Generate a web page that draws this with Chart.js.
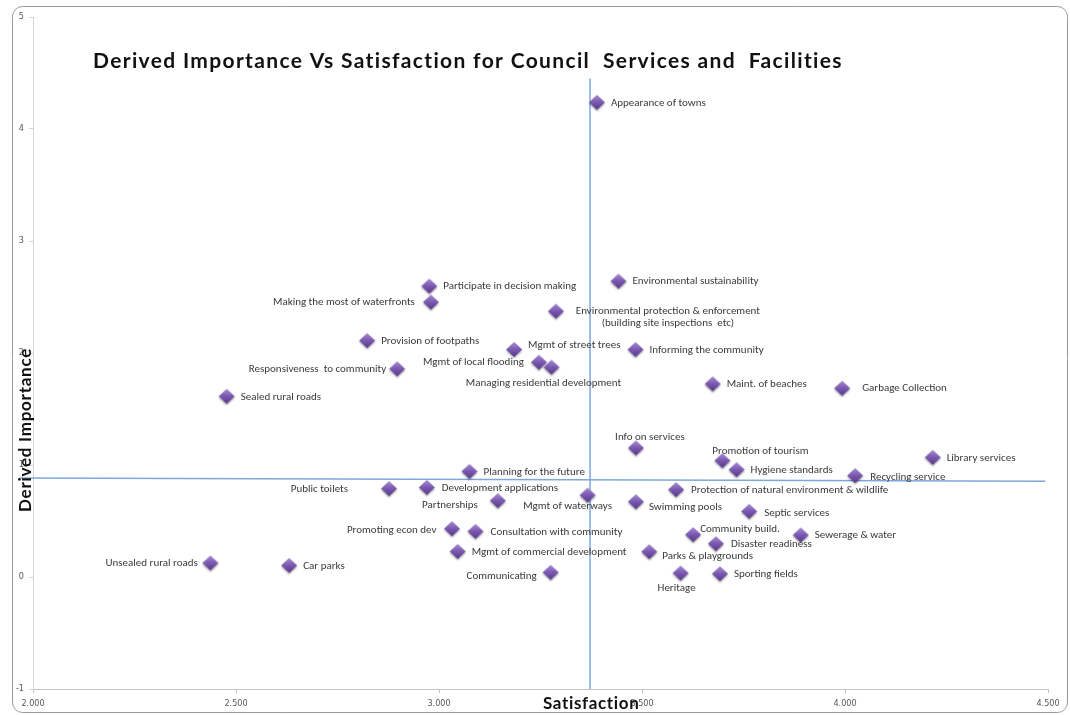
<!DOCTYPE html>
<html>
<head>
<meta charset="utf-8">
<title>Derived Importance Vs Satisfaction</title>
<script src="https://cdn.jsdelivr.net/npm/chart.js"></script>
<style>
  body { margin: 0; background: #fff; }
  #wrap { width: 1070px; height: 715px; position: relative; }
</style>
</head>
<body>
<div id="wrap"><canvas id="chart" width="1070" height="715"></canvas></div>
<script>
// services, satisfaction score (x) and derived importance (y)
const services = [
  'Appearance of towns', 'Environmental sustainability', 'Participate in decision making',
  'Making the most of waterfronts', 'Environmental protection & enforcement\n(building site inspections  etc)',
  'Provision of footpaths', 'Mgmt of street trees', 'Informing the community',
  'Mgmt of local flooding', 'Managing residential development', 'Responsiveness  to community',
  'Maint. of beaches', 'Garbage Collection', 'Sealed rural roads', 'Info on services',
  'Library services', 'Promotion of tourism', 'Hygiene standards', 'Planning for the future',
  'Recycling service', 'Public toilets', 'Development applications',
  'Protection of natural environment & wildlife', 'Mgmt of waterways', 'Partnerships',
  'Swimming pools', 'Septic services', 'Promoting econ dev', 'Consultation with community',
  'Community build.', 'Sewerage & water', 'Disaster readiness', 'Mgmt of commercial development',
  'Parks & playgrounds', 'Unsealed rural roads', 'Car parks', 'Communicating', 'Heritage',
  'Sporting fields'
];
const satisfaction = [
  3.389, 3.442, 2.976, 2.980, 3.288, 2.823, 3.185, 3.484, 3.246, 3.277, 2.897,
  3.674, 3.993, 2.477, 3.485, 4.216, 3.698, 3.733, 3.075, 4.025, 2.877, 2.970,
  3.584, 3.366, 3.145, 3.485, 3.764, 3.032, 3.090, 3.626, 3.891, 3.682, 3.046,
  3.518, 2.437, 2.631, 3.275, 3.595, 3.692
];
const importance = [
  4.234, 2.637, 2.593, 2.450, 2.369, 2.107, 2.027, 2.027, 1.913, 1.869, 1.854,
  1.720, 1.681, 1.609, 1.148, 1.064, 1.035, 0.954, 0.939, 0.901, 0.785, 0.796,
  0.776, 0.727, 0.677, 0.668, 0.582, 0.427, 0.403, 0.374, 0.371, 0.293, 0.224,
  0.222, 0.121, 0.099, 0.037, 0.031, 0.025
];

// average lines
const meanSatisfaction = 3.372;
const meanSatRange = [-1, 4.45];
const meanImportanceX = [1.968, 4.493];
const meanImportanceY = [0.883, 0.856];

// axis ranges
const xRange = [2, 4.5];
const yRange = [-1, 5];

// where each label sits relative to its point: [side, offset, dy]
const labelPlace = {
  'Making the most of waterfronts': ['l', 16, 0],
  'Environmental protection & enforcement\n(building site inspections  etc)': ['c', 112, 0],
  'Mgmt of street trees': ['r', 14, -5],
  'Mgmt of local flooding': ['l', 15, 0],
  'Managing residential development': ['c', -8, 15.5],
  'Responsiveness  to community': ['l', 11, 0],
  'Garbage Collection': ['r', 20, 0],
  'Info on services': ['c', 14, -11.5],
  'Promotion of tourism': ['c', 38, -10],
  'Recycling service': ['r', 15, 1],
  'Public toilets': ['l', 41, 0],
  'Development applications': ['r', 15, 0],
  'Protection of natural environment & wildlife': ['r', 15, 0],
  'Mgmt of waterways': ['c', -20, 11],
  'Partnerships': ['l', 20, 4.5],
  'Swimming pools': ['r', 13, 5],
  'Septic services': ['r', 15, 1.5],
  'Promoting econ dev': ['l', 15.5, 1],
  'Consultation with community': ['r', 15, 0],
  'Community build.': ['r', 7, -6],
  'Disaster readiness': ['r', 15, 0],
  'Parks & playgrounds': ['r', 13, 4.5],
  'Unsealed rural roads': ['l', 12.5, 0],
  'Communicating': ['l', 14, 3],
  'Heritage': ['c', -4, 15]
};

const labelFont = '11px Carlito, Lato, sans-serif';
const headFont = 'Lato, "Open Sans", sans-serif';

// purple diamond with a soft shade, used as the point style
function makeDiamond() {
  const c = document.createElement('canvas');
  c.width = 22; c.height = 22;
  const g = c.getContext('2d');
  const cx = 11, cy = 10.5, hw = 8, hh = 7.5;
  g.shadowColor = 'rgba(0,0,0,0.35)';
  g.shadowBlur = 2;
  g.shadowOffsetY = 1.5;
  const grad = g.createLinearGradient(0, cy - hh, 0, cy + hh);
  grad.addColorStop(0, '#a68bd2');
  grad.addColorStop(0.5, '#7a58b0');
  grad.addColorStop(1, '#573889');
  g.fillStyle = grad;
  g.beginPath();
  g.moveTo(cx, cy - hh);
  g.lineTo(cx + hw, cy);
  g.lineTo(cx, cy + hh);
  g.lineTo(cx - hw, cy);
  g.closePath();
  g.fill();
  return c;
}

const points = satisfaction.map((s, i) => ({ x: s, y: importance[i], name: services[i] }));

// draws text spread out to a given width
function spreadText(ctx, text, x, y, width) {
  ctx.letterSpacing = '0px';
  const w = ctx.measureText(text).width;
  ctx.letterSpacing = ((width - w) / text.length) + 'px';
  ctx.fillText(text, x, y);
  ctx.letterSpacing = '0px';
}

const frame = {
  id: 'frame',
  beforeDraw(chart) {
    const ctx = chart.ctx;
    ctx.save();
    ctx.fillStyle = '#fff';
    ctx.fillRect(0, 0, chart.width, chart.height);
    ctx.strokeStyle = '#9a9a9a';
    ctx.lineWidth = 1;
    ctx.beginPath();
    ctx.roundRect(12.5, 6.5, 1055, 706, 10);
    ctx.stroke();
    ctx.restore();
  }
};

const pointLabels = {
  id: 'pointLabels',
  afterDatasetsDraw(chart) {
    const ctx = chart.ctx;
    const meta = chart.getDatasetMeta(2);
    ctx.save();
    ctx.font = labelFont;
    ctx.fillStyle = '#3a3a3a';
    ctx.textBaseline = 'middle';
    meta.data.forEach((el, i) => {
      const name = points[i].name;
      const [side, off, dy] = labelPlace[name] || ['r', 14, 0];
      const lines = name.split('\n');
      let x = el.x, y = el.y + dy;
      if (side === 'r') { ctx.textAlign = 'left'; x += off; }
      else if (side === 'l') { ctx.textAlign = 'right'; x -= off; }
      else { ctx.textAlign = 'center'; x += off; }
      lines.forEach((t, k) => ctx.fillText(t, x, y + k * 12));
    });
    ctx.restore();
  }
};

const titles = {
  id: 'titles',
  afterDraw(chart) {
    const ctx = chart.ctx;
    ctx.save();
    ctx.fillStyle = '#111';
    ctx.textBaseline = 'middle';
    ctx.textAlign = 'left';
    ctx.font = 'bold 21px ' + headFont;
    spreadText(ctx, 'Derived Importance Vs Satisfaction for Council  Services and  Facilities', 93, 61, 751);
    ctx.font = 'bold 17px ' + headFont;
    spreadText(ctx, 'Satisfaction', 543, 704, 97);
    ctx.translate(26, 512);
    ctx.rotate(-Math.PI / 2);
    spreadText(ctx, 'Derived Importance', 0, 0, 164);
    ctx.restore();
  }
};

new Chart(document.getElementById('chart'), {
  type: 'scatter',
  data: {
    datasets: [{
      label: 'Mean satisfaction',
      data: meanSatRange.map(v => ({ x: meanSatisfaction, y: v })),
      showLine: true,
      borderColor: '#7ea7da',
      borderWidth: 1.5,
      pointRadius: 0,
      order: 3
    }, {
      label: 'Mean importance',
      data: meanImportanceX.map((x, i) => ({ x: x, y: meanImportanceY[i] })),
      showLine: true,
      borderColor: '#7ea7da',
      borderWidth: 1.5,
      pointRadius: 0,
      clip: false,
      order: 2
    }, {
      label: 'Services',
      data: points,
      pointStyle: makeDiamond(),
      order: 1
    }]
  },
  options: {
    responsive: false,
    animation: false,
    events: [],
    layout: { padding: { top: 17, right: 22, left: 0, bottom: 0 } },
    plugins: {
      legend: { display: false },
      tooltip: { enabled: false }
    },
    scales: {
      x: {
        type: 'linear',
        min: xRange[0],
        max: xRange[1],
        afterFit: s => { s.height = 26; },
        grid: { drawOnChartArea: false, tickLength: 4, color: '#c4c4c4' },
        border: { color: '#c4c4c4' },
        ticks: {
          stepSize: 0.5,
          padding: 5,
          color: '#595959',
          font: { size: 9, family: '"Liberation Sans Narrow", "DejaVu Sans Condensed", sans-serif' },
          callback: v => v.toFixed(3)
        }
      },
      y: {
        type: 'linear',
        min: yRange[0],
        max: yRange[1],
        afterFit: s => { s.width = 33; },
        grid: { drawOnChartArea: false, tickLength: 4, color: '#d4d4d4' },
        border: { color: '#d4d4d4' },
        ticks: {
          stepSize: 1,
          padding: 5,
          color: '#595959',
          font: { size: 9, family: '"Liberation Sans Narrow", "DejaVu Sans Condensed", sans-serif' }
        }
      }
    }
  },
  plugins: [frame, pointLabels, titles]
});
</script>
</body>
</html>
